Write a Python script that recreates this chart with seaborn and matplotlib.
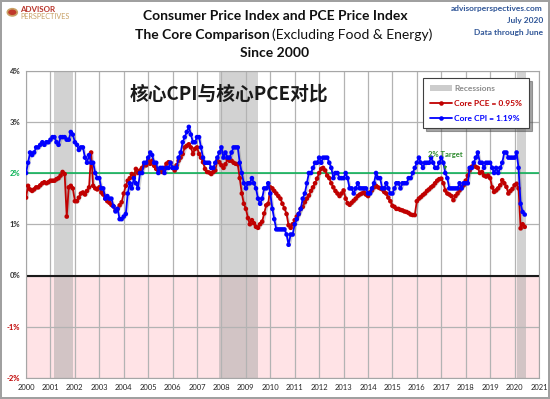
import numpy as np
import pandas as pd
import matplotlib
matplotlib.use('Agg')
import matplotlib.pyplot as plt
import matplotlib.patheffects as pe
import seaborn as sns
from matplotlib.lines import Line2D
from matplotlib.patches import Patch, Circle

# Core CPI, year over year %, monthly Jan 2000 - Jun 2020
core_cpi = [
    2.0, 2.2, 2.4, 2.35, 2.4, 2.5, 2.5, 2.55, 2.6, 2.55, 2.6, 2.6,       # 2000
    2.65, 2.7, 2.7, 2.6, 2.55, 2.7, 2.7, 2.7, 2.65, 2.65, 2.8, 2.75,    # 2001
    2.6, 2.55, 2.45, 2.5, 2.5, 2.3, 2.2, 2.35, 2.2, 2.2, 2.0, 1.9,      # 2002
    1.9, 1.7, 1.7, 1.5, 1.55, 1.5, 1.5, 1.35, 1.25, 1.3, 1.1, 1.1,      # 2003
    1.15, 1.2, 1.6, 1.8, 1.7, 1.9, 1.8, 1.7, 2.0, 2.0, 2.2, 2.2,        # 2004
    2.3, 2.4, 2.35, 2.2, 2.2, 2.0, 2.1, 2.1, 2.0, 2.1, 2.1, 2.2,        # 2005
    2.1, 2.1, 2.1, 2.3, 2.4, 2.6, 2.7, 2.8, 2.9, 2.75, 2.6, 2.6,        # 2006
    2.7, 2.7, 2.5, 2.3, 2.2, 2.2, 2.2, 2.1, 2.1, 2.2, 2.3, 2.4,         # 2007
    2.5, 2.3, 2.4, 2.3, 2.3, 2.4, 2.5, 2.5, 2.5, 2.2, 2.0, 1.8,         # 2008
    1.7, 1.8, 1.8, 1.9, 1.8, 1.7, 1.5, 1.4, 1.5, 1.7, 1.7, 1.8,         # 2009
    1.6, 1.3, 1.1, 0.9, 0.9, 0.9, 0.9, 0.9, 0.8, 0.6, 0.8, 0.8,         # 2010
    1.0, 1.1, 1.2, 1.3, 1.5, 1.6, 1.8, 2.0, 2.0, 2.1, 2.2, 2.2,         # 2011
    2.3, 2.2, 2.3, 2.3, 2.3, 2.2, 2.1, 1.9, 2.0, 2.0, 1.9, 1.9,         # 2012
    1.9, 2.0, 1.9, 1.7, 1.7, 1.6, 1.7, 1.8, 1.7, 1.7, 1.7, 1.7,         # 2013
    1.6, 1.6, 1.7, 1.8, 2.0, 1.9, 1.9, 1.7, 1.7, 1.8, 1.7, 1.6,         # 2014
    1.6, 1.7, 1.8, 1.8, 1.7, 1.8, 1.8, 1.8, 1.9, 1.9, 2.0, 2.1,         # 2015
    2.2, 2.3, 2.2, 2.1, 2.2, 2.2, 2.2, 2.3, 2.2, 2.1, 2.1, 2.2,         # 2016
    2.3, 2.2, 2.0, 1.9, 1.7, 1.7, 1.7, 1.7, 1.7, 1.8, 1.7, 1.8,         # 2017
    1.8, 1.8, 2.1, 2.1, 2.2, 2.3, 2.4, 2.2, 2.2, 2.1, 2.2, 2.2,         # 2018
    2.2, 2.1, 2.0, 2.1, 2.0, 2.1, 2.2, 2.4, 2.4, 2.3, 2.3, 2.3,         # 2019
    2.3, 2.4, 2.1, 1.4, 1.24, 1.19,                                     # 2020
]

# Core PCE, year over year %, same months
core_pce = [
    1.52, 1.75, 1.68, 1.65, 1.68, 1.72, 1.72, 1.76, 1.8, 1.82, 1.8, 1.82,
    1.85, 1.85, 1.85, 1.88, 1.9, 1.95, 2.02, 1.98, 1.15, 1.72, 1.75, 1.7,
    1.45, 1.45, 1.52, 1.6, 1.62, 1.58, 1.65, 1.72, 2.4, 1.75, 1.7, 1.68,
    1.72, 1.62, 1.58, 1.5, 1.45, 1.42, 1.38, 1.35, 1.27, 1.3, 1.37, 1.43,
    1.6, 1.75, 1.85, 1.9, 1.98, 1.95, 2.08, 2.0, 2.05, 2.1, 2.15, 2.15,
    2.24, 2.18, 2.24, 2.14, 2.08, 2.05, 2.05, 2.02, 2.1, 2.18, 2.21, 2.2,
    2.1, 2.05, 2.15, 2.24, 2.3, 2.37, 2.5, 2.53, 2.56, 2.5, 2.37, 2.47,
    2.5, 2.37, 2.3, 2.21, 2.08, 2.02, 2.01, 1.98, 2.02, 2.05, 2.24, 2.21,
    2.15, 2.1, 2.17, 2.27, 2.24, 2.24, 2.2, 2.18, 2.17, 1.9, 1.6, 1.4,
    1.3, 1.12, 1.0, 1.08, 1.02, 0.95, 0.93, 1.0, 1.05, 1.21, 1.37, 1.4,
    1.72, 1.7, 1.65, 1.6, 1.55, 1.5, 1.4, 1.31, 1.2, 0.98, 0.93, 1.0,
    1.08, 1.15, 1.2, 1.3, 1.34, 1.43, 1.5, 1.56, 1.65, 1.72, 1.8, 1.89,
    2.0, 2.08, 2.1, 2.05, 1.95, 1.9, 1.8, 1.72, 1.65, 1.6, 1.55, 1.6,
    1.66, 1.5, 1.41, 1.38, 1.42, 1.46, 1.5, 1.55, 1.58, 1.6, 1.62, 1.58,
    1.55, 1.62, 1.66, 1.72, 1.75, 1.72, 1.7, 1.68, 1.63, 1.6, 1.52, 1.45,
    1.36, 1.34, 1.3, 1.3, 1.28, 1.27, 1.25, 1.24, 1.22, 1.19, 1.18, 1.18,
    1.45, 1.5, 1.53, 1.57, 1.6, 1.65, 1.68, 1.72, 1.75, 1.8, 1.85, 1.88,
    1.89, 1.8, 1.66, 1.6, 1.58, 1.55, 1.47, 1.55, 1.6, 1.66, 1.72, 1.76,
    1.85, 1.95, 2.05, 2.12, 2.15, 2.12, 2.1, 2.0, 2.02, 1.95, 1.93, 1.95,
    1.9, 1.72, 1.63, 1.66, 1.7, 1.76, 1.86, 1.8, 1.73, 1.6, 1.65, 1.69,
    1.76, 1.79, 1.7, 0.92, 1.0, 0.95,
]

recessions = [('2001-03-01', '2001-11-30'),
              ('2007-12-01', '2009-06-30'),
              ('2020-02-01', '2020-06-15')]

y_ticks = [-2, -1, 0, 1, 2, 3, 4]
years = list(range(2000, 2022))

legend_labels = ['Recessions', 'Core PCE = 0.95%', 'Core CPI = 1.19%']

RED = '#c00000'
BLUE = '#0000ff'
GREEN = '#00b050'
GRID = '#b3b3b3'

sns.set_theme(style='white')
plt.rcParams['font.family'] = ['Lato', 'DejaVu Sans']

months = pd.date_range('2000-01-01', periods=len(core_cpi), freq='MS')
df = pd.DataFrame({'date': months, 'Core PCE': core_pce, 'Core CPI': core_cpi})
df = df.melt('date', var_name='series', value_name='yoy')

fig = plt.figure(figsize=(5.5, 3.99), dpi=100)
fig.patch.set_edgecolor('#a0a0a0')
fig.patch.set_linewidth(1.5)
ax = fig.add_axes([26 / 550, 1 - 378 / 399, 513 / 550, 307.5 / 399])

# background bits
ax.axhspan(-2, 0, color='#ffe3e6', zorder=0, lw=0)
for start, end in recessions:
    ax.axvspan(pd.Timestamp(start), pd.Timestamp(end), color='#a6a6a6', alpha=0.5, lw=0, zorder=1)
for y in years:
    ax.axvline(pd.Timestamp(f'{y}-01-01'), color=GRID, lw=0.9, zorder=1.5)
for v in y_ticks:
    ax.axhline(v, color=GRID, lw=0.9, zorder=1.5)
ax.axhline(0, color='#1a1a1a', lw=1.5, zorder=2)
ax.axhline(2, color=GREEN, lw=1.1, zorder=2)

shadow = [pe.SimpleLineShadow(offset=(1, -1), alpha=0.25, shadow_color='#555555'), pe.Normal()]
sns.lineplot(data=df, x='date', y='yoy', hue='series',
             palette={'Core PCE': RED, 'Core CPI': BLUE},
             hue_order=['Core PCE', 'Core CPI'],
             marker='o', markersize=3.3, markeredgewidth=0, lw=1.3,
             legend=False, ax=ax, zorder=3)
for line in ax.get_lines()[-2:]:
    line.set_path_effects(shadow)

ax.set_xlim(pd.Timestamp('2000-01-01'), pd.Timestamp('2021-01-01'))
ax.set_ylim(-2, 4)
ax.set_xticks([pd.Timestamp(f'{y}-01-01') for y in years])
ax.set_xticklabels([str(y) for y in years], fontsize=5.5)
ax.set_yticks(y_ticks)
ax.set_yticklabels([f'{v}%' for v in y_ticks], fontsize=5.5, fontweight='bold')
for lab, v in zip(ax.get_yticklabels(), y_ticks):
    lab.set_color(RED if v < 0 else (GREEN if v == 2 else '#333333'))
ax.tick_params(length=0, pad=4)
ax.set_xlabel('')
ax.set_ylabel('')
for s in ax.spines.values():
    s.set_color('#a6a6a6')
    s.set_linewidth(0.8)

# 2% target note
ax.annotate('2% Target', xy=(pd.Timestamp('2017-03-01'), 2.06),
            xytext=(pd.Timestamp('2017-03-01'), 2.36),
            ha='center', va='center', fontsize=5.5, fontweight='bold', color='#2e8b2e',
            arrowprops=dict(arrowstyle='-|>', color='#2e8b2e', lw=0.5, mutation_scale=5,
                            shrinkA=3, shrinkB=0), zorder=5)

handles = [Patch(facecolor='#cccccc', edgecolor='none'),
           Line2D([], [], color=RED, lw=1.3, marker='o', markersize=3.3, markeredgewidth=0),
           Line2D([], [], color=BLUE, lw=1.3, marker='o', markersize=3.3, markeredgewidth=0)]
leg = ax.legend(handles, legend_labels, loc='upper right',
                bbox_to_anchor=(533 / 550, 1 - 74 / 399), bbox_transform=fig.transFigure,
                prop={'weight': 'bold', 'size': 6},
                labelcolor=['#8c8c8c', RED, BLUE],
                frameon=True, fancybox=False, shadow=True, edgecolor='#404040',
                framealpha=1, handlelength=2.6, labelspacing=0.95, borderpad=0.8,
                handletextpad=0.3)
leg.get_frame().set_linewidth(0.8)
leg.set_zorder(6)

# titles
fig.text(0.5, 1 - 16.5 / 399, 'Consumer Price Index and PCE Price Index',
         ha='center', va='center', fontsize=10, fontweight='bold', color='#111111')
fig.text(270 / 550, 1 - 35 / 399, 'The Core Comparison',
         ha='right', va='center', fontsize=10, fontweight='bold', color='#111111')
fig.text(272 / 550, 1 - 35 / 399, '(Excluding Food & Energy)',
         ha='left', va='center', fontsize=10, color='#111111')
fig.text(0.5, 1 - 53 / 399, 'Since 2000',
         ha='center', va='center', fontsize=10, fontweight='bold', color='#111111')

fig.text(229 / 550, 1 - 94 / 399, '核心CPI与核心PCE对比',
         ha='center', va='center', fontsize=13.5, fontweight='bold', color='#1a1a1a',
         family=['Noto Sans CJK SC', 'DejaVu Sans'])

# source block, top right
for txt, yy in [('advisorperspectives.com', 9), ('July 2020', 21), ('Data through June', 32)]:
    fig.text(543 / 550, 1 - yy / 399, txt, ha='right', va='center',
             fontsize=6, fontweight='bold', color='#2f5597')

# logo, top left
fig.patches.append(Circle((12.3 / 550, 1 - 12.3 / 399), 0.009, transform=fig.transFigure,
                          facecolor='#c0392b', edgecolor='#c8a165', lw=1.2))
fig.text(20 / 550, 1 - 9 / 399, 'ADVISOR', ha='left', va='center',
         fontsize=5.8, fontweight='bold', color='#b8342a')
fig.text(20 / 550, 1 - 16.5 / 399, 'PERSPECTIVES', ha='left', va='center',
         fontsize=5.2, color='#c8a165')

fig.savefig('out.png', dpi=100, edgecolor=fig.get_edgecolor())
